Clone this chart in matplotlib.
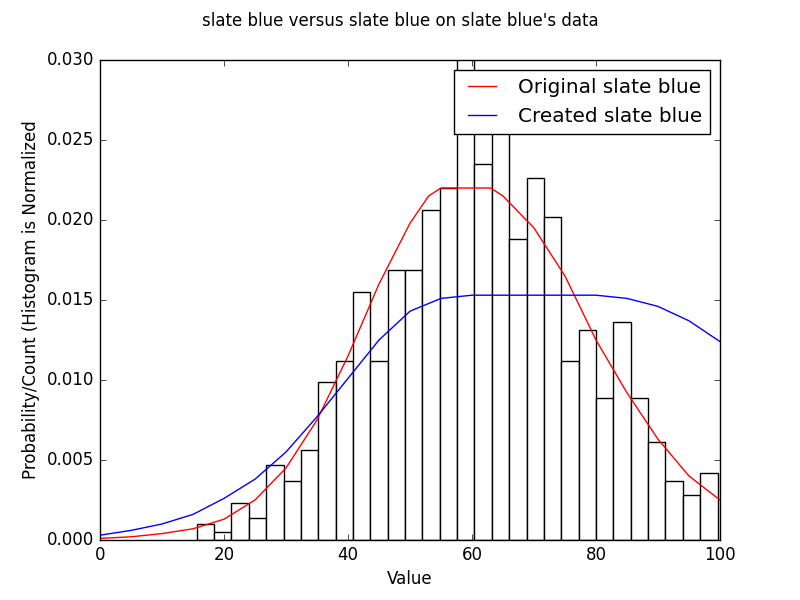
import matplotlib
matplotlib.use("Agg")
from matplotlib import pyplot as plt

plt.style.use("classic")

# histogram (normalized)
bin_left = 15.6
bin_width = 2.8
heights = [0.0010, 0.0005, 0.0023, 0.0014, 0.0047, 0.0037, 0.0056, 0.0099, 0.0112, 0.0155,
           0.0112, 0.0169, 0.0169, 0.0206, 0.0220, 0.0305, 0.0235, 0.0290, 0.0188, 0.0226,
           0.0202, 0.0112, 0.0131, 0.0089, 0.0136, 0.0089, 0.0061, 0.0037, 0.0028, 0.0042]
bin_lefts = [bin_left + i * bin_width for i in range(len(heights))]

red_x = [0, 5, 10, 15, 20, 25, 30, 35, 40, 45, 50, 53, 55, 60, 63, 65, 70, 75, 80, 85, 90, 95, 100]
red_y = [0.0001, 0.0002, 0.0004, 0.0007, 0.0013, 0.0025, 0.0045, 0.0075, 0.0115, 0.0160, 0.0198,
         0.0215, 0.0220, 0.0220, 0.0220, 0.0215, 0.0195, 0.0165, 0.0125, 0.0092, 0.0063, 0.0040, 0.0025]
blue_x = [0, 5, 10, 15, 20, 25, 30, 35, 40, 45, 50, 55, 60, 70, 80, 85, 90, 95, 100]
blue_y = [0.0003, 0.0006, 0.0010, 0.0016, 0.0026, 0.0038, 0.0055, 0.0077, 0.0101, 0.0125, 0.0143,
          0.0151, 0.0153, 0.0153, 0.0153, 0.0151, 0.0146, 0.0137, 0.0124]

fig, ax = plt.subplots(figsize=(8, 6), dpi=100)
ax.bar(bin_lefts, heights, width=bin_width, align="edge", facecolor="white", edgecolor="black")
ax.plot(red_x, red_y, color="red", label="Original slate blue")
ax.plot(blue_x, blue_y, color="blue", label="Created slate blue")

ax.set_xlim(0, 100)
ax.set_ylim(0, 0.03)
ax.set_xlabel("Value")
ax.set_ylabel("Probability/Count (Histogram is Normalized")
ax.legend(loc="upper right")
fig.suptitle("slate blue versus slate blue on slate blue's data")
fig.savefig("out.png", dpi=100)
